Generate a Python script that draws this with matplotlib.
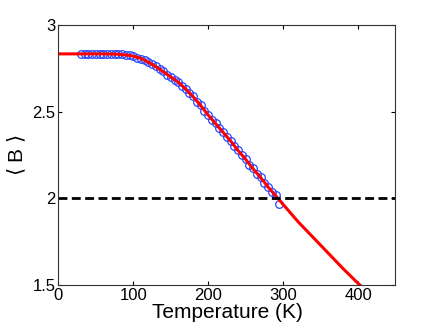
import matplotlib
matplotlib.use('Agg')
import matplotlib.pyplot as plt

# fitted curve <B>(T)
fit_T = [0, 20, 40, 60, 80, 90, 100, 110, 120, 130, 140, 150, 160, 170, 180,
         190, 200, 210, 220, 230, 240, 250, 260, 270, 280, 290, 300, 320, 340,
         360, 380, 400, 420]
fit_B = [2.833, 2.833, 2.833, 2.833, 2.831, 2.827, 2.820, 2.807, 2.785, 2.760,
         2.730, 2.700, 2.670, 2.630, 2.585, 2.535, 2.480, 2.430, 2.380, 2.330,
         2.275, 2.225, 2.170, 2.120, 2.065, 2.015, 1.965, 1.865, 1.775, 1.685,
         1.595, 1.510, 1.430]

# measured points
data_T = [30, 35, 40, 45, 50, 55, 60, 65, 70, 75, 80, 85, 90, 95, 100, 105,
          110, 115, 120, 125, 130, 135, 140, 145, 150, 155, 160, 165, 170, 175,
          180, 185, 190, 195, 200, 205, 210, 215, 220, 225, 230, 235, 240, 245,
          250, 255, 260, 265, 270, 275, 280, 285, 290, 295]
data_B = [2.833, 2.833, 2.833, 2.834, 2.833, 2.833, 2.834, 2.833, 2.833, 2.834,
          2.832, 2.832, 2.828, 2.825, 2.820, 2.812, 2.806, 2.795, 2.787, 2.772,
          2.762, 2.744, 2.733, 2.714, 2.702, 2.683, 2.671, 2.648, 2.632, 2.606,
          2.588, 2.558, 2.538, 2.506, 2.483, 2.453, 2.432, 2.403, 2.383, 2.353,
          2.333, 2.300, 2.278, 2.248, 2.228, 2.195, 2.173, 2.143, 2.123, 2.090,
          2.068, 2.037, 2.018, 1.970]

threshold = 2.0

plt.rcParams['font.family'] = ['Liberation Sans', 'DejaVu Sans']
plt.rcParams['mathtext.fontset'] = 'dejavusans'

fig = plt.figure(figsize=(4.36, 3.28), dpi=100)
ax = fig.add_axes([0.134, 0.131, 0.773, 0.793])

ax.plot(data_T, data_B, 'o', mfc='none', mec='#2848ff', ms=5.5, mew=0.9)
ax.plot(fit_T, fit_B, '-', color='red', lw=2.2)
ax.axhline(threshold, color='black', ls=(0, (3.2, 1.6)), lw=2.0)

ax.set_xlim(0, 450)
ax.set_ylim(1.5, 3)
ax.set_xticks([0, 100, 200, 300, 400])
ax.set_yticks([1.5, 2, 2.5, 3])
ax.set_yticklabels(['1.5', '2', '2.5', '3'])
ax.tick_params(direction='in', length=3, top=True, right=True, labelsize=12,
               pad=2)
for s in ax.spines.values():
    s.set_linewidth(0.8)
    s.set_color('#333333')

ax.set_xlabel('Temperature (K)', fontsize=15, labelpad=0)
ax.set_ylabel(r'$\langle$ B $\rangle$', fontsize=15, labelpad=3)

fig.savefig('out.png', dpi=100)
